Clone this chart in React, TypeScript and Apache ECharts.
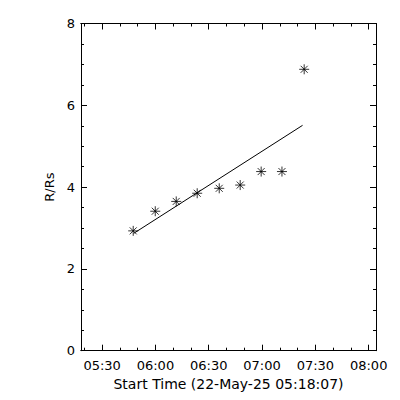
import React, { useEffect, useRef } from "react";
import * as echarts from "echarts";

// times in minutes since midnight
const startMinutes = 5 * 60 + 18 + 7 / 60; // 05:18:07
const endMinutes = startMinutes + 166;
const majorTickMinutes = [330, 360, 390, 420, 450, 480];
const minorTickMinutes = [320, 330, 340, 350, 360, 370, 380, 390, 400, 410, 420, 430, 440, 450, 460, 470, 480];
const pointTimes = [347.5, 359.9, 371.7, 383.5, 395.9, 407.7, 419.5, 431.2, 443.7];
const pointHeights = [2.93, 3.41, 3.65, 3.85, 3.97, 4.05, 4.38, 4.38, 6.88];
const fitTimes = [347.8, 442.8];
const fitHeights = [2.87, 5.51];

const FONT = "DejaVu Sans";

function fmt(v: number) {
  const h = Math.floor(v / 60);
  const m = Math.round(v - h * 60);
  return String(h).padStart(2, "0") + ":" + String(m).padStart(2, "0");
}

const star = "path://M0,-5L0,5M-5,0L5,0M-3.5,-3.5L3.5,3.5M-3.5,3.5L3.5,-3.5";

export default function App() {
  const ref = useRef<HTMLDivElement>(null);
  useEffect(() => {
    const chart = echarts.init(ref.current!, null, { renderer: "svg" });
    const baseX = {
      type: "value",
      min: startMinutes,
      max: endMinutes,
      splitLine: { show: false },
      axisLine: { show: true, onZero: false, lineStyle: { color: "#000", width: 1 } },
    };
    chart.setOption({
      animation: false,
      backgroundColor: "#fff",
      grid: { left: 81, right: 24, top: 23.5, bottom: 49.3, containLabel: false },
      xAxis: [
        {
          ...baseX,
          position: "bottom",
          name: "Start Time (22-May-25 05:18:07)",
          nameLocation: "middle",
          nameGap: 25,
          nameTextStyle: { color: "#000", fontFamily: FONT, fontSize: 14 },
          axisTick: { show: true, inside: true, length: 6, customValues: majorTickMinutes, lineStyle: { color: "#000" } },
          axisLabel: { show: true, customValues: majorTickMinutes, formatter: (v: number) => fmt(v), color: "#000", fontFamily: FONT, fontSize: 13, margin: 8 },
        },
        {
          ...baseX,
          position: "bottom",
          axisTick: { show: true, inside: true, length: 3, customValues: minorTickMinutes, lineStyle: { color: "#000" } },
          axisLabel: { show: false },
        },
        {
          ...baseX,
          position: "top",
          axisTick: { show: true, inside: true, length: 6, customValues: majorTickMinutes, lineStyle: { color: "#000" } },
          axisLabel: { show: false },
        },
        {
          ...baseX,
          position: "top",
          axisTick: { show: true, inside: true, length: 3, customValues: minorTickMinutes, lineStyle: { color: "#000" } },
          axisLabel: { show: false },
        },
      ],
      yAxis: [
        {
          type: "value",
          min: 0,
          max: 8,
          interval: 2,
          position: "left",
          name: "R/Rs",
          nameLocation: "middle",
          nameGap: 14,
          nameTextStyle: { color: "#000", fontFamily: FONT, fontSize: 13 },
          splitLine: { show: false },
          axisLine: { show: true, onZero: false, lineStyle: { color: "#000" } },
          axisTick: { show: true, inside: true, length: 6, lineStyle: { color: "#000" } },
          minorTick: { show: true, splitNumber: 4, length: 3, lineStyle: { color: "#000" } },
          axisLabel: { color: "#000", fontFamily: FONT, fontSize: 13, margin: 6 },
        },
        {
          type: "value",
          min: 0,
          max: 8,
          interval: 2,
          position: "right",
          splitLine: { show: false },
          axisLine: { show: true, onZero: false, lineStyle: { color: "#000" } },
          axisTick: { show: true, inside: true, length: 6, lineStyle: { color: "#000" } },
          minorTick: { show: true, splitNumber: 4, length: 3, lineStyle: { color: "#000" } },
          axisLabel: { show: false },
        },
      ],
      series: [
        {
          type: "line",
          data: fitTimes.map((t, i) => [t, fitHeights[i]]),
          showSymbol: false,
          lineStyle: { color: "#000", width: 1 },
        },
        {
          type: "scatter",
          data: pointTimes.map((t, i) => [t, pointHeights[i]]),
          symbol: star,
          symbolSize: 10,
          itemStyle: { color: "none", borderColor: "#000", borderWidth: 1 },
        },
      ],
    });
    return () => chart.dispose();
  }, []);
  return <div ref={ref} style={{ width: 400, height: 400, marginTop: -8, marginLeft: -8 }} />;
}
